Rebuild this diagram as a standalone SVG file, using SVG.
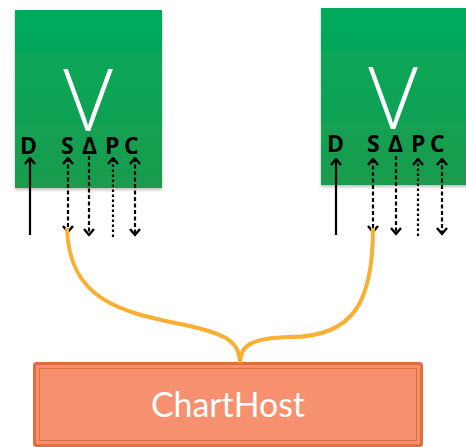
<svg xmlns="http://www.w3.org/2000/svg" width="466" height="447" viewBox="0 0 466 447">
<defs>
<linearGradient id="g" x1="0" y1="0" x2="0" y2="1">
<stop offset="0" stop-color="#00aa5d"/>
<stop offset="1" stop-color="#1b9b4d"/>
</linearGradient>
<marker id="ah" viewBox="0 0 9 13" refX="7.5" refY="6.5" markerWidth="9" markerHeight="13" markerUnits="userSpaceOnUse" orient="auto-start-reverse">
<path d="M1.5,1.5 L7.5,6.5 L1.5,11.5" fill="none" stroke="#000" stroke-width="2.4"/>
</marker>
<filter id="sh" x="-10%" y="-10%" width="120%" height="120%">
<feDropShadow dx="0" dy="2" stdDeviation="1.5" flood-color="#000" flood-opacity="0.25"/>
</filter>
</defs>
<style>
.box{fill:url(#g);filter:url(#sh)}
.v{font-family:"Open Sans","DejaVu Sans",sans-serif;font-size:86px;font-weight:300;fill:#fff;text-anchor:middle}
.lbl{font-family:"Open Sans","DejaVu Sans",sans-serif;font-size:23px;font-weight:bold;fill:#000}
.a{stroke:#000;stroke-width:2.2;fill:none}
.d{stroke-dasharray:4 2.5}
.f{stroke-dasharray:2.5 2.5}
.w{stroke:#f9af31;stroke-width:4;fill:none}
.host{font-family:Lato,"Open Sans",sans-serif;font-size:35px;fill:#fff;text-anchor:middle}
</style>
<g id="view1">
<rect class="box" x="15" y="10" width="147" height="178"/>
<text class="v" x="88" y="131">V</text>
<text class="lbl" x="20" y="154">D</text>
<text class="lbl" x="61" y="154">S</text>
<text class="lbl" x="82" y="154">Δ</text>
<text class="lbl" x="105" y="154">P</text>
<text class="lbl" x="124" y="154">C</text>
</g>
<g id="view2">
<rect class="box" x="321" y="8" width="150" height="177"/>
<text class="v" x="393" y="129">V</text>
<text class="lbl" x="327" y="152">D</text>
<text class="lbl" x="367" y="152">S</text>
<text class="lbl" x="388" y="152">Δ</text>
<text class="lbl" x="411" y="152">P</text>
<text class="lbl" x="430" y="152">C</text>
</g>
<g id="host">
<rect x="34.5" y="363.5" width="387" height="82" rx="2" fill="#f6906e" stroke="#df6d3e" stroke-width="3"/>
<rect x="39.5" y="368.5" width="377" height="72" fill="none" stroke="#df6d3e" stroke-width="1"/>
<text class="host" x="228" y="417" textLength="154" lengthAdjust="spacingAndGlyphs">ChartHost</text>
</g>
<g id="connectors">
<line class="a" x1="30" y1="235" x2="30" y2="158" marker-end="url(#ah)"/>
<line class="a d" x1="68" y1="158" x2="68" y2="232" marker-start="url(#ah)" marker-end="url(#ah)"/>
<line class="a d" x1="89" y1="156" x2="89" y2="235" marker-end="url(#ah)"/>
<line class="a f" x1="113" y1="237" x2="113" y2="158" marker-end="url(#ah)"/>
<line class="a d" x1="135" y1="158" x2="135" y2="235" marker-start="url(#ah)" marker-end="url(#ah)"/>
<line class="a" x1="336" y1="235" x2="336" y2="159" marker-end="url(#ah)"/>
<line class="a d" x1="373" y1="159" x2="373" y2="232" marker-start="url(#ah)" marker-end="url(#ah)"/>
<line class="a d" x1="396" y1="156" x2="396" y2="234" marker-end="url(#ah)"/>
<line class="a f" x1="418" y1="236" x2="418" y2="159" marker-end="url(#ah)"/>
<line class="a d" x1="442" y1="159" x2="442" y2="234" marker-start="url(#ah)" marker-end="url(#ah)"/>
<path class="w" d="M67,228 C69,300 120,312 185,325 C228,334 240,343 240,363"/>
<path class="w" d="M373,228 C373,300 355,337 290,337 C252,338 240,345 240,363"/>
</g>
</svg>
